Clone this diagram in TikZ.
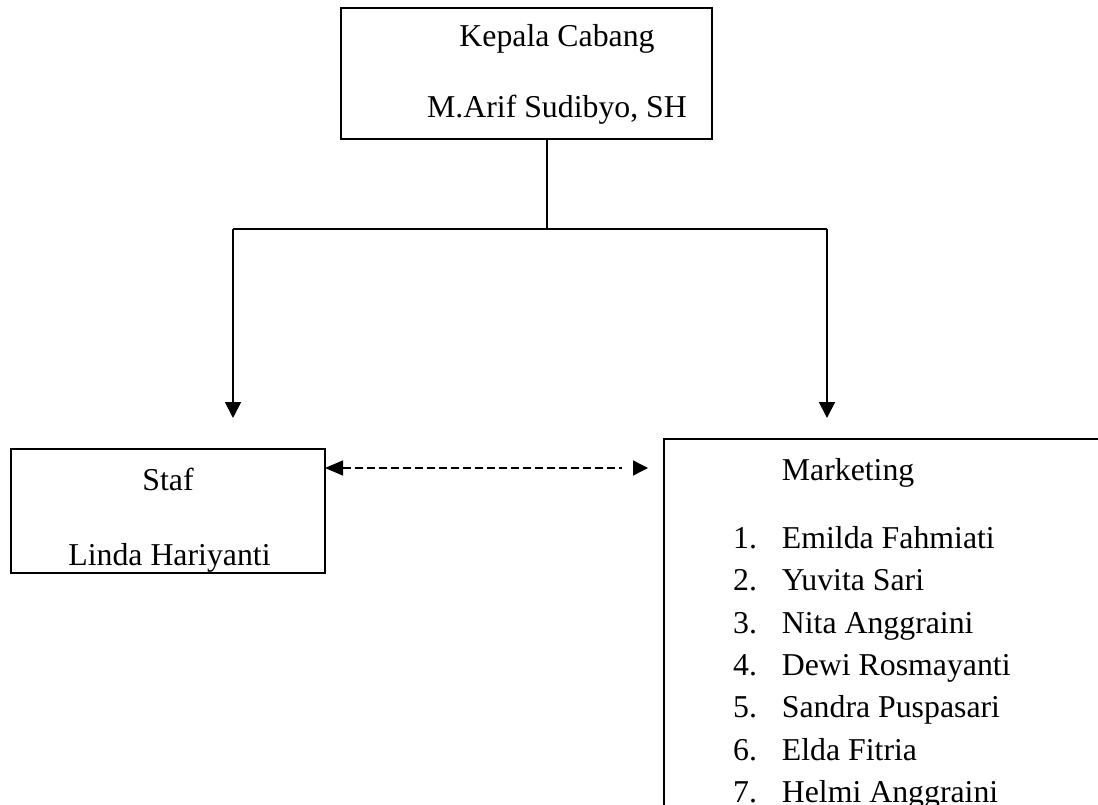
\documentclass[tikz,border=0pt]{standalone}
\usepackage{fontspec}
\setmainfont{Liberation Serif}
\usetikzlibrary{arrows.meta}
\begin{document}
\begin{tikzpicture}[x=1pt,y=-1pt,
  box/.style={draw, line width=1.8pt, rectangle, inner sep=0pt, outer sep=0pt, anchor=north west},
  lbl/.style={font=\fontsize{31.8}{42.5}\selectfont, inner sep=0pt, anchor=base},
  item/.style={lbl, anchor=base west},
  link/.style={line width=1.8pt},
  tip/.style={-{Triangle[length=16pt,width=16pt]}}
]
\clip (0,0) rectangle (1098,805);

% boxes
\node[box, minimum width=371pt, minimum height=131pt] (kepala) at (341,8) {};
\node[box, minimum width=314pt, minimum height=124pt] (staf) at (11,449) {};
\node[box, minimum width=460pt, minimum height=420pt] (mkt) at (664,439) {};

% box texts
\node[lbl] (kepalaT) at (557,47) {Kepala Cabang};
\node[lbl] (kepalaN) at (557,118) {M.Arif Sudibyo, SH};
\node[lbl] (stafT) at (168,490) {Staf};
\node[lbl] (stafN) at (169.5,565) {Linda Hariyanti};
\node[item] (mktT) at (781.7,480) {Marketing};
\foreach \n/\name [count=\i] in {
  1/Emilda Fahmiati, 2/Yuvita Sari, 3/Nita Anggraini, 4/Dewi Rosmayanti,
  5/Sandra Puspasari, 6/Elda Fitria, 7/Helmi Anggraini} {
  \pgfmathsetmacro{\yy}{548.3+42.4*(\i-1)}
  \node[item] (num\i) at (733,\yy) {\n.};
  \node[item] (name\i) at (781.7,\yy) {\name};
}

% connectors
\coordinate (hub) at (547,229);
\coordinate (lt) at (233,229);
\coordinate (rt) at (827,229);
\coordinate (ltip) at (233,418);
\coordinate (rtip) at (827,418);
\coordinate (dashgap) at (622,468);
\coordinate (dashbase) at (633,468);
\coordinate (dashend) at (648,468);

\draw[link] (kepala.south -| hub) -- (hub);
\draw[link] (lt) -- (rt);
\draw[link, tip] (lt) -- (ltip);
\draw[link, tip] (rt) -- (rtip);
% dashed two-way link; the right head stands apart from the dashes
\draw[line width=1.4pt, dash pattern=on 8pt off 4pt,
  {Triangle[length=18pt,width=15pt]}-]
  ([yshift=-19pt]staf.north east) -- (dashgap);
\draw[line width=1.4pt, -{Triangle[length=15pt,width=15pt]}]
  (dashbase) -- (dashend);
\end{tikzpicture}
\end{document}
